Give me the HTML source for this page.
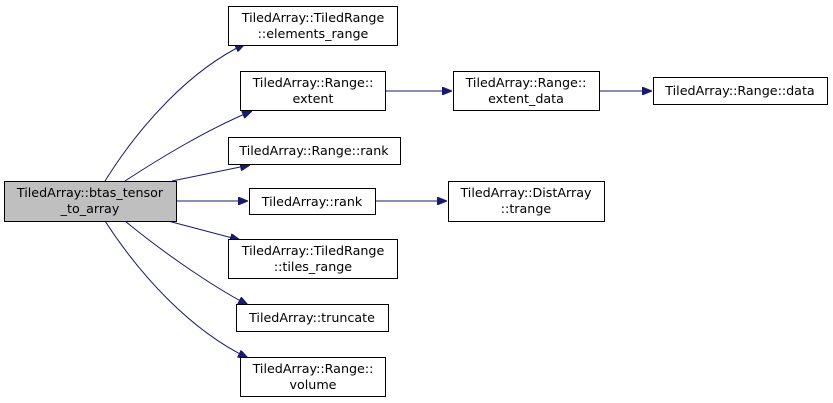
<!DOCTYPE html>
<html><head><meta charset="utf-8"><style>
html,body{margin:0;padding:0;background:#fff;width:833px;height:403px;overflow:hidden}
text{font-family:"DejaVu Sans","Liberation Sans",sans-serif;font-size:12.7px;fill:#000}
</style></head><body>
<svg width="833" height="403" viewBox="0 0 833 403" xmlns="http://www.w3.org/2000/svg">
<defs><marker id="a" markerWidth="10" markerHeight="8" refX="10" refY="4" orient="auto" markerUnits="userSpaceOnUse"><path d="M0,0 L10,4 L0,8 z" fill="#191970" stroke="#191970"/></marker></defs>
<g fill="none" stroke="#191970" stroke-width="1">
<path d="M105,181 C140,125 190,70 245,44" marker-end="url(#a)"/>
<path d="M125,181 C160,158 210,128 252,111" marker-end="url(#a)"/>
<path d="M172,181 L250,165" marker-end="url(#a)"/>
<path d="M177,201 L248,201" marker-end="url(#a)"/>
<path d="M168,221 L240,240" marker-end="url(#a)"/>
<path d="M125,221 C160,250 210,285 248,305" marker-end="url(#a)"/>
<path d="M105,221 C140,275 190,330 248,358" marker-end="url(#a)"/>
<path d="M386,91 L452,91" marker-end="url(#a)"/>
<path d="M599,91 L652,91" marker-end="url(#a)"/>
<path d="M375,201 L447,201" marker-end="url(#a)"/>
</g>
<g stroke="#000" stroke-width="1" fill="#fff">
<rect x="4.5" y="181.5" width="172" height="40" fill="#bfbfbf"/>
<rect x="228.5" y="6.5" width="169" height="39"/>
<rect x="240.5" y="71.5" width="145" height="39"/>
<rect x="228.5" y="137.5" width="172" height="27"/>
<rect x="249.5" y="188.5" width="126" height="26"/>
<rect x="228.5" y="239.5" width="169" height="39"/>
<rect x="236.5" y="304.5" width="152" height="27"/>
<rect x="240.5" y="357.5" width="145" height="39"/>
<rect x="453.5" y="71.5" width="146" height="39"/>
<rect x="653.5" y="77.5" width="174" height="27"/>
<rect x="448.5" y="181.5" width="156" height="40"/>
</g>
<g text-anchor="middle">
<text x="90" y="197">TiledArray::btas_tensor</text><text x="90" y="213">_to_array</text>
<text x="313" y="22">TiledArray::TiledRange</text><text x="313" y="38">::elements_range</text>
<text x="313" y="87">TiledArray::Range::</text><text x="313" y="103">extent</text>
<text x="314" y="155">TiledArray::Range::rank</text>
<text x="312" y="206">TiledArray::rank</text>
<text x="313" y="255">TiledArray::TiledRange</text><text x="313" y="271">::tiles_range</text>
<text x="312" y="322">TiledArray::truncate</text>
<text x="313" y="373">TiledArray::Range::</text><text x="313" y="389">volume</text>
<text x="526" y="87">TiledArray::Range::</text><text x="526" y="103">extent_data</text>
<text x="740" y="95">TiledArray::Range::data</text>
<text x="526" y="197">TiledArray::DistArray</text><text x="526" y="213">::trange</text>
</g>
</svg>
</body></html>
